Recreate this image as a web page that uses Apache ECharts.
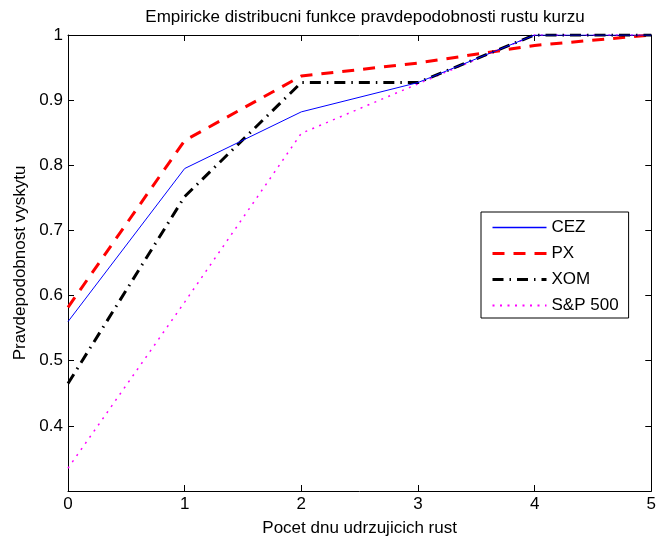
<!DOCTYPE html>
<html>
<head>
<meta charset="utf-8">
<script src="https://cdn.jsdelivr.net/npm/echarts@6/dist/echarts.min.js"></script>
<style>
  html, body { margin: 0; padding: 0; background: #fff; }
  #chart { width: 659px; height: 542px; }
</style>
</head>
<body>
<div id="chart"></div>
<script>
// Number of consecutive rising days (x) and empirical CDF of each instrument
const days = [0, 1, 2, 3, 4, 5];
const cez  = [0.560, 0.795, 0.882, 0.927, 1.000, 1.000];
const px   = [0.582, 0.838, 0.937, 0.957, 0.984, 1.000];
const xom  = [0.465, 0.752, 0.927, 0.927, 1.000, 1.000];
const sp500 = [0.335, 0.590, 0.849, 0.925, 1.000, 1.000];

const titleText = 'Empiricke distribucni funkce pravdepodobnosti rustu kurzu';
const xName = 'Pocet dnu udrzujicich rust';
const yName = 'Pravdepodobnost vyskytu';

const FONT = '"Liberation Sans", Arial, Helvetica, sans-serif';
const FS = 17;

// line looks per series (used by both the plot and its legend)
const looks = {
  'CEZ':     { color: '#0000ff', width: 1,   legendWidth: 1.4, type: 'solid' },
  'PX':      { color: '#ff0000', width: 3,   legendWidth: 3,   type: [12, 9] },
  'XOM':     { color: '#000000', width: 3,   legendWidth: 3,   type: [11, 6, 1.5, 6] },
  'S&P 500': { color: '#ff00ff', width: 1.5, legendWidth: 1.8, type: [2, 5.5] }
};

function pairs(ys) {
  return days.map((d, i) => [d, ys[i]]);
}

function lineSeries(name, ys, z) {
  const l = looks[name];
  return {
    name: name, type: 'line', data: pairs(ys), symbol: 'none', z: z,
    lineStyle: { color: l.color, width: l.width, type: l.type, cap: 'butt' },
    itemStyle: { color: l.color }
  };
}

const chart = echarts.init(document.getElementById('chart'), null, { renderer: 'canvas' });

const axisCommon = {
  axisLine: { show: true, onZero: false, lineStyle: { color: '#000', width: 1 } },
  axisTick: { show: true, inside: true, length: 6, lineStyle: { color: '#000', width: 1 } },
  splitLine: { show: false }
};

chart.setOption({
  backgroundColor: '#fff',
  animation: false,
  title: {
    text: titleText,
    left: 360,
    textAlign: 'center',
    top: 4,
    textStyle: { fontFamily: FONT, fontSize: FS, fontWeight: 'normal', color: '#000' }
  },
  grid: { left: 68, right: 7, top: 35, bottom: 47, containLabel: false },
  legend: {
    orient: 'vertical',
    left: 481,
    top: 212,
    itemWidth: 54,
    itemHeight: 17,
    itemGap: 9,
    padding: [7, 10, 4, 10],
    borderColor: '#000',
    borderWidth: 1,
    backgroundColor: '#fff',
    itemStyle: { opacity: 0 },
    textStyle: { fontFamily: FONT, fontSize: FS, color: '#000' },
    data: Object.keys(looks).map(n => ({
      name: n,
      lineStyle: { width: looks[n].legendWidth, type: looks[n].type, color: looks[n].color }
    }))
  },
  xAxis: [
    Object.assign({}, axisCommon, {
      type: 'value', min: 0, max: 5, interval: 1, position: 'bottom',
      name: xName, nameLocation: 'middle', nameGap: 29,
      nameTextStyle: { fontFamily: FONT, fontSize: FS, color: '#000' },
      axisLabel: { margin: 5, fontFamily: FONT, fontSize: FS, color: '#000' }
    }),
    Object.assign({}, axisCommon, {
      type: 'value', min: 0, max: 5, interval: 1, position: 'top',
      axisLabel: { show: false }
    })
  ],
  yAxis: [
    Object.assign({}, axisCommon, {
      type: 'value', min: 0.3, max: 1, interval: 0.1, position: 'left',
      name: yName, nameLocation: 'middle', nameGap: 38,
      nameTextStyle: { fontFamily: FONT, fontSize: FS, color: '#000' },
      axisLabel: {
        margin: 5, fontFamily: FONT, fontSize: FS, color: '#000',
        formatter: v => (Math.abs(v - 0.3) < 1e-6 ? '' : String(Math.round(v * 10) / 10))
      }
    }),
    Object.assign({}, axisCommon, {
      type: 'value', min: 0.3, max: 1, interval: 0.1, position: 'right',
      axisLabel: { show: false }
    })
  ],
  series: [
    lineSeries('CEZ', cez, 5),
    lineSeries('PX', px, 3),
    lineSeries('XOM', xom, 4),
    lineSeries('S&P 500', sp500, 2)
  ]
});
</script>
</body>
</html>
